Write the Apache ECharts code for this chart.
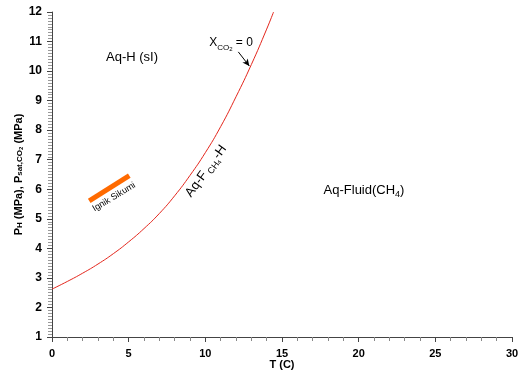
<!DOCTYPE html>
<html><head><meta charset="utf-8">
<script src="https://cdn.jsdelivr.net/npm/echarts@6/dist/echarts.min.js"></script>
<style>html,body{margin:0;padding:0;background:#fff}#c{width:525px;height:377px}</style>
</head><body><div id="c"></div>
<script>
// Hydrate equilibrium curve (X_CO2 = 0)
var curveT = [0, 1, 2, 3, 4, 5, 6, 7, 8, 9, 10, 11, 12, 13, 14, 14.45];
var curveP = [2.62, 2.88, 3.16, 3.47, 3.82, 4.22, 4.67, 5.18, 5.78, 6.47, 7.24, 8.12, 9.13, 10.22, 11.42, 12.0];
// Ignik Sikumi segment
var ignikT = [2.43, 5.04];
var ignikP = [5.61, 6.46];
// Arrow for X_CO2 = 0 label
var arrowT = [12.15, 12.87];
var arrowP = [10.65, 10.17];
var xTicks = [0, 5, 10, 15, 20, 25, 30];
var yTicks = [1, 2, 3, 4, 5, 6, 7, 8, 9, 10, 11, 12];

var F = 'Liberation Sans, Arial, sans-serif';
var chart = echarts.init(document.getElementById('c'));
function pts(a, b) { return a.map(function (v, i) { return [v, b[i]]; }); }

var subStyles = {
  m: { fontSize: 13, fontFamily: F, color: '#000', lineHeight: 18 },
  s: { fontSize: 9, fontFamily: F, color: '#000', lineHeight: 11, verticalAlign: 'bottom' },
  ss: { fontSize: 7, fontFamily: F, color: '#000', lineHeight: 7, verticalAlign: 'bottom' }
};

chart.setOption({
  animation: false,
  grid: { left: 52, right: 13, top: 12, bottom: 40 },
  xAxis: {
    type: 'value', min: 0, max: 30, interval: 5,
    name: 'T (C)', nameLocation: 'middle', nameGap: 22, nameMoveOverlap: false,
    nameTextStyle: { fontFamily: F, fontWeight: 'bold', fontSize: 11, color: '#000' },
    axisLine: { lineStyle: { color: '#444', width: 1 } },
    axisTick: { length: 5, lineStyle: { color: '#444' } },
    minorTick: { show: true, splitNumber: 5, length: 4, lineStyle: { color: '#888' } },
    splitLine: { show: false },
    axisLabel: { fontFamily: F, fontWeight: 'bold', fontSize: 11, color: '#000', margin: 11,
      formatter: function (v) { return xTicks.indexOf(v) >= 0 ? String(v) : ''; } }
  },
  yAxis: {
    type: 'value', min: 1, max: 12, interval: 1,
    name: 'P{s|H} (MPa), P{s|sat,CO}{ss|2} (MPa)', nameLocation: 'middle', nameGap: 28, nameRotate: 90,
    nameMoveOverlap: false,
    nameTextStyle: { fontFamily: F, fontWeight: 'bold', fontSize: 11, color: '#000',
      rich: {
        s: { fontSize: 8, fontFamily: F, fontWeight: 'bold', color: '#000', lineHeight: 9, verticalAlign: 'bottom' },
        ss: { fontSize: 6, fontFamily: F, fontWeight: 'bold', color: '#000', lineHeight: 5, verticalAlign: 'bottom' }
      } },
    axisLine: { show: true, lineStyle: { color: '#444', width: 1 } },
    axisTick: { show: true, length: 5, lineStyle: { color: '#444' } },
    minorTick: { show: true, splitNumber: 10, length: 4, lineStyle: { color: '#999' } },
    splitLine: { show: false },
    axisLabel: { fontFamily: F, fontWeight: 'bold', fontSize: 12, color: '#000', margin: 10,
      formatter: function (v) { return yTicks.indexOf(v) >= 0 ? String(v) : ''; } }
  },
  series: [
    { type: 'line', data: pts(curveT, curveP), smooth: true, showSymbol: false,
      lineStyle: { color: '#e3261c', width: 1 }, z: 3 },
    { type: 'line', data: pts(ignikT, ignikP), showSymbol: false,
      lineStyle: { color: '#ff6a00', width: 5, cap: 'butt' }, z: 4 },
    { type: 'line', data: [], showSymbol: false,
      markLine: { silent: true, symbol: ['none', 'arrow'], symbolSize: [5, 7], label: { show: false },
        lineStyle: { color: '#000', width: 1, type: 'solid' },
        data: [[{ coord: [arrowT[0], arrowP[0]] }, { coord: [arrowT[1], arrowP[1]] }]] } }
  ],
  graphic: [
    { type: 'text', x: 132, y: 57, style: { text: 'Aq-H (sI)', fontFamily: F, fontSize: 13, fill: '#000', align: 'center', verticalAlign: 'middle' } },
    { type: 'text', x: 364, y: 190, style: { text: '{m|Aq-Fluid(CH}{s|4}{m|)}', rich: subStyles, align: 'center', verticalAlign: 'middle' } },
    { type: 'text', x: 231, y: 43, style: { text: '{m|X}{s|CO}{ss|2}{m| = 0}', rich: {
        m: { fontSize: 12, fontFamily: F, color: '#000', lineHeight: 18 },
        s: { fontSize: 8, fontFamily: F, color: '#000', lineHeight: 10, verticalAlign: 'bottom' },
        ss: { fontSize: 6, fontFamily: F, color: '#000', lineHeight: 4, verticalAlign: 'bottom' } }, align: 'center', verticalAlign: 'middle' } },
    { type: 'text', x: 206, y: 171, rotation: 54 * Math.PI / 180, style: { text: '{m|Aq-F}{s| CH}{ss|4}{m|-H}', rich: {
        m: { fontSize: 13, fontFamily: F, color: '#000', lineHeight: 18 },
        s: { fontSize: 9, fontFamily: F, color: '#000', lineHeight: 11, verticalAlign: 'bottom' },
        ss: { fontSize: 6, fontFamily: F, color: '#000', lineHeight: 6, verticalAlign: 'bottom' } }, align: 'center', verticalAlign: 'middle' } },
    { type: 'text', x: 114, y: 197, rotation: 31 * Math.PI / 180, style: { text: 'Ignik Sikumi', fontFamily: F, fontSize: 9, fill: '#000', align: 'center', verticalAlign: 'middle' } }
  ]
});
</script></body></html>
